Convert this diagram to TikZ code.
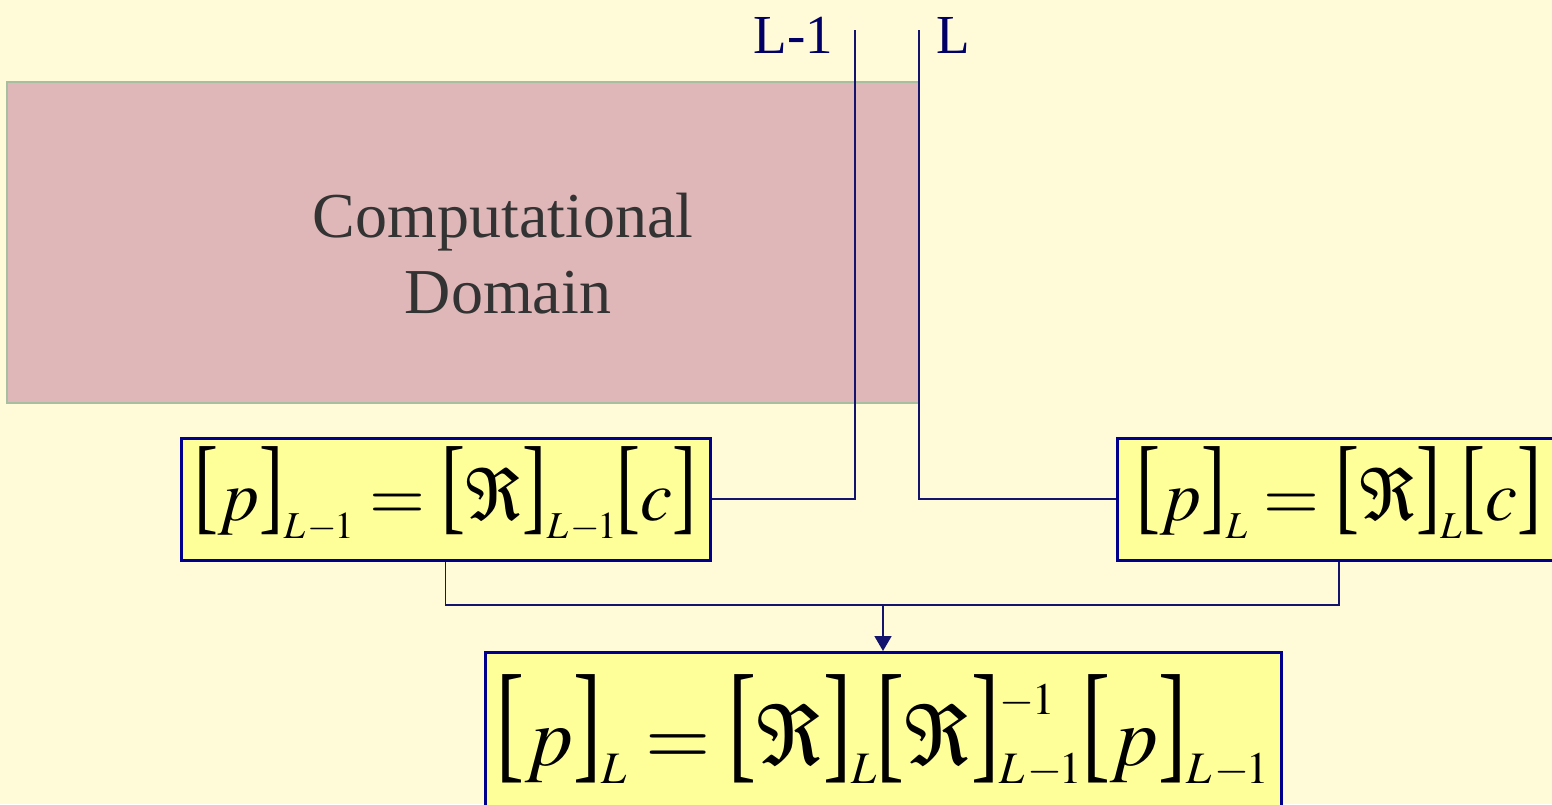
\documentclass[tikz,border=0pt]{standalone}
\usepackage{mathptmx}
\usepackage[no-math]{fontspec}
\setmainfont{Liberation Serif}
\usetikzlibrary{arrows.meta,calc}

\definecolor{paper}{RGB}{255,250,215}
\definecolor{domfill}{RGB}{224,183,184}
\definecolor{domline}{RGB}{168,190,160}
\definecolor{eqfill}{RGB}{255,255,153}
\definecolor{eqline}{RGB}{0,0,140}
\definecolor{wire}{RGB}{20,20,110}
\definecolor{navytext}{RGB}{0,0,102}
\definecolor{greytext}{RGB}{51,51,51}

% tall square brackets (vertical stretch factor in \brk)
\newcommand{\brk}{1.48}
\newcommand{\lb}{\mathopen{\hbox{\scalebox{1}[\brk]{[}}}}
\newcommand{\rb}{\mathclose{\hbox{\scalebox{1}[\brk]{]}}}}
% lowered subscript / raised superscript set at a given size
\newcommand{\lo}[3]{\mathclose{\raisebox{-#1}{\fontsize{#2}{#2}\selectfont$#3$}}}
\newcommand{\lohi}[5]{\mathclose{\rlap{\raisebox{#3}{\fontsize{#2}{#2}\selectfont$#5$}}%
  \raisebox{-#1}{\fontsize{#2}{#2}\selectfont$#4$}}}
\newcommand{\Lm}{L\mkern1mu{-}\mkern-1mu1}

\begin{document}
\begin{tikzpicture}[x=1pt,y=-1pt,
  eqbox/.style={draw=eqline,line width=3pt,fill=eqfill,inner sep=0pt,
    minimum height=122pt,text height=65pt,text depth=23pt,
    font=\fontsize{72}{80}\selectfont},
  wireline/.style={draw=wire,line width=1.8pt},
  tip/.style={-{Triangle[width=17pt,length=15pt]}},
  level/.style={text=navytext,font=\fontsize{55}{60}\selectfont,inner sep=0pt}]

  \fill[paper] (0,0) rectangle (1552,804);
  \useasboundingbox (0,0) rectangle (1552,804);
  \clip (0,0) rectangle (1552,804);

  % computational domain
  \node[draw=domline,line width=1.5pt,fill=domfill,minimum width=912pt,
        minimum height=321pt,inner sep=0pt] (dom) at (463,242.5) {};
  \node[text=greytext,font=\fontsize{64}{76}\selectfont,align=center,
        inner sep=0pt] (domtxt) at (503,254) {Computational\\\hspace*{10pt}Domain};

  % level labels and grid lines
  \node[level,anchor=base east] (lm) at (833,53) {L-1};
  \node[level,anchor=base west] (ll) at (936,53) {L};
  \coordinate (t1) at (855,30);
  \coordinate (t2) at (919,30);

  % equation boxes
  \node[eqbox,minimum width=529pt] (lbox) at (445.5,499)
    {$\lb p\rb\lo{18pt}{38}{\Lm} = \lb\Re\rb\lo{18pt}{38}{\Lm}\lb c\rb$};
  \node[eqbox,minimum width=444pt] (rbox) at (1339,499)
    {$\lb p\rb\lo{18pt}{38}{L} = \lb\Re\rb\lo{18pt}{38}{L}\lb c\rb$};
  \node[eqbox,minimum width=796pt,minimum height=170pt,anchor=north,
        text height=88pt,text depth=32pt,
        font=\fontsize{84}{96}\selectfont] (bbox) at (883,651)
    {\renewcommand{\brk}{1.56}%
     $\lb p\rb\lo{18pt}{45}{L} = \lb\Re\rb\lo{18pt}{45}{L}
      \lb\Re\rb\lohi{18pt}{45}{51pt}{\Lm}{{-}\mkern-1mu1}\lb p\rb\lo{18pt}{45}{\Lm}$};

  \coordinate (jn) at (883,605);

  % connectors
  \draw[wireline] (t1) |- (lbox.east);
  \draw[wireline] (t2) |- (rbox.west);
  \draw[wireline] (lbox.south) |- (jn) -| (rbox.south);
  \draw[wireline,tip] (jn) -- (bbox.north);
\end{tikzpicture}
\end{document}
